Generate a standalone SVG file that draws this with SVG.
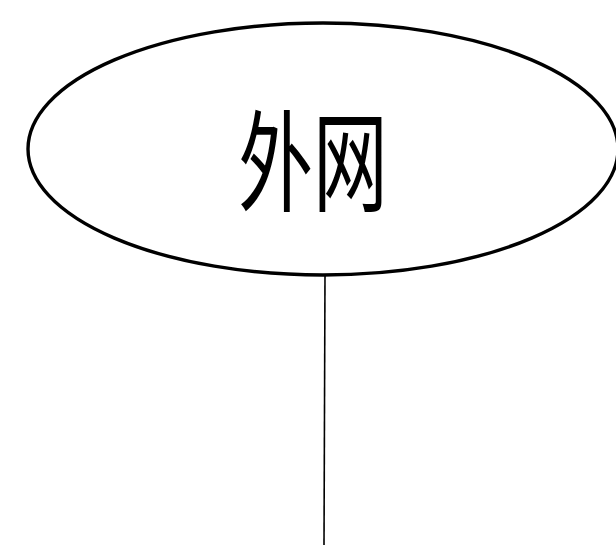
<svg xmlns="http://www.w3.org/2000/svg" width="616" height="545" viewBox="0 0 616 545">
<style>
.node{fill:#fff;stroke:#000;stroke-width:3.4}
.label{font-family:"Noto Sans CJK SC","Noto Sans",sans-serif;font-size:110px;fill:#000;text-anchor:middle;dominant-baseline:central}
.edge{stroke:#000;stroke-width:1.6;fill:none}
</style>
<rect width="616" height="545" fill="#fff"/>
<g id="connectors">
<line class="edge" x1="325" y1="274" x2="324" y2="545"/>
</g>
<g id="node-waiwang">
<ellipse class="node" cx="323" cy="149" rx="295" ry="126"/>
<text class="label" transform="translate(313,155) scale(0.68,1)" x="0" y="0">外网</text>
</g>
</svg>
